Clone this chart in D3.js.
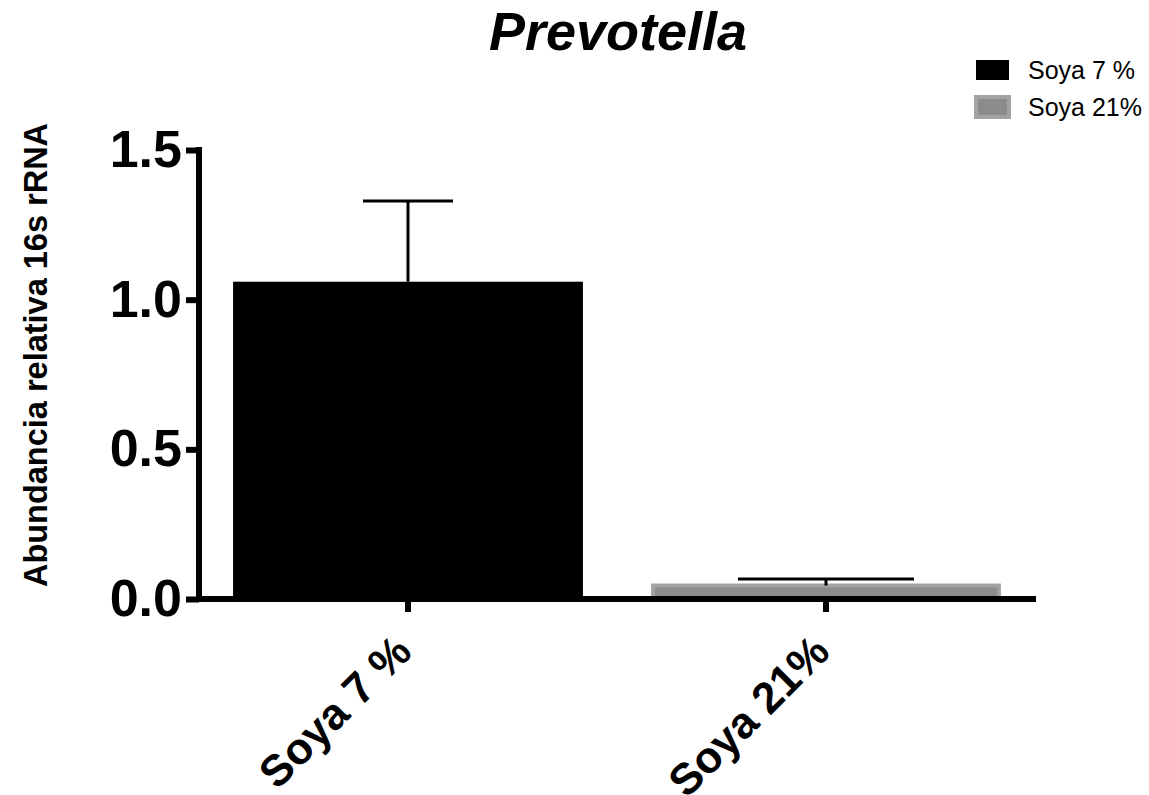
<!DOCTYPE html>
<head>
<script src="https://d3js.org/d3.v7.min.js"></script>
<style>
  body { margin: 0; background: #fff; }
  text { font-family: "Liberation Sans", Arial, sans-serif; }
</style>
</head>
<body>
<div id="container"></div>
<script>
// data
var groups = ["Soya 7 %", "Soya 21%"]
var means = [1.06, 0.045]
var errors = [0.27, 0.022]
var yTicks = [0, 0.5, 1.0, 1.5]

var width = 1149
var height = 795

var blackFill = "#000000"
var grayFill = "#8c8c8c"
var grayStroke = "#a3a3a3"
var capHalf = [45, 88]

var svg = d3.select("#container").append("svg")
  .attr("width", width)
  .attr("height", height)

var x = d3.scaleBand()
  .domain(groups)
  .range([199, 1035])
  .paddingInner(0.163)
  .paddingOuter(0.0815)

var y = d3.scaleLinear()
  .domain([0, 1.5])
  .range([599, 150])

// title
svg.append("text")
  .attr("x", 618).attr("y", 50)
  .attr("text-anchor", "middle")
  .style("font-size", "54px").style("font-weight", "bold").style("font-style", "italic")
  .text("Prevotella")

// y label
svg.append("text")
  .attr("transform", "translate(47,355) rotate(-90)")
  .attr("text-anchor", "middle")
  .style("font-size", "32.5px").style("font-weight", "bold")
  .text("Abundancia relativa 16s rRNA")

// bars
svg.selectAll("rect.bar")
  .data(groups)
  .enter().append("rect")
  .attr("class", "bar")
  .attr("x", function (d, i) { return i === 1 ? x(d) + 2 : x(d) })
  .attr("width", function (d, i) { return i === 1 ? x.bandwidth() - 4 : x.bandwidth() })
  .attr("y", function (d, i) { return y(means[i]) })
  .attr("height", function (d, i) { return y(0) - y(means[i]) })
  .attr("fill", function (d, i) { return i === 0 ? blackFill : grayFill })
  .attr("stroke", function (d, i) { return i === 0 ? "none" : grayStroke })
  .attr("stroke-width", 4)

// error bars (upper only)
groups.forEach(function (g, i) {
  var cx = x(g) + x.bandwidth() / 2
  svg.append("line")
    .attr("x1", cx).attr("x2", cx)
    .attr("y1", y(means[i])).attr("y2", y(means[i] + errors[i]))
    .attr("stroke", "#000").attr("stroke-width", 3)
  svg.append("line")
    .attr("x1", cx - capHalf[i]).attr("x2", cx + capHalf[i])
    .attr("y1", y(means[i] + errors[i])).attr("y2", y(means[i] + errors[i]))
    .attr("stroke", "#000").attr("stroke-width", 3)
})

// y axis
var yAxis = svg.append("g")
  .attr("transform", "translate(199,0)")
  .call(d3.axisLeft(y).tickValues(yTicks).tickFormat(d3.format(".1f")).tickSize(13).tickPadding(4).tickSizeOuter(0))
yAxis.select(".domain").attr("stroke-width", 6).attr("d", "M0," + (y(1.5) - 3) + "V" + (y(0) + 3))
yAxis.selectAll(".tick line").attr("stroke-width", 6)
yAxis.selectAll(".tick text")
  .style("font-size", "52px").style("font-weight", "bold")
  .style("font-family", "'Liberation Sans', Arial, sans-serif")
  .attr("fill", "#000")

// x axis
var xAxis = svg.append("g")
  .attr("transform", "translate(0," + y(0) + ")")
  .call(d3.axisBottom(x).tickSize(13).tickSizeOuter(0))
xAxis.select(".domain").attr("stroke-width", 6).attr("d", "M196,0H1036")
xAxis.selectAll(".tick line").attr("stroke-width", 6)
xAxis.selectAll(".tick text")
  .attr("text-anchor", "end")
  .attr("transform", "translate(6,55) rotate(-45)")
  .attr("x", 0).attr("y", 0).attr("dy", 0)
  .style("font-size", "44px").style("font-weight", "bold")
  .style("font-family", "'Liberation Sans', Arial, sans-serif")
  .attr("fill", "#000")

// legend
var legend = svg.append("g")
legend.append("rect")
  .attr("x", 976).attr("y", 60).attr("width", 33).attr("height", 20)
  .attr("fill", blackFill)
legend.append("rect")
  .attr("x", 976).attr("y", 97).attr("width", 33).attr("height", 20)
  .attr("fill", grayFill).attr("stroke", grayStroke).attr("stroke-width", 4)
legend.selectAll("text.leg")
  .data(groups)
  .enter().append("text")
  .attr("class", "leg")
  .attr("x", 1028)
  .attr("y", function (d, i) { return 79 + i * 37 })
  .style("font-size", "25px")
  .text(function (d) { return d })
</script>
</body>
